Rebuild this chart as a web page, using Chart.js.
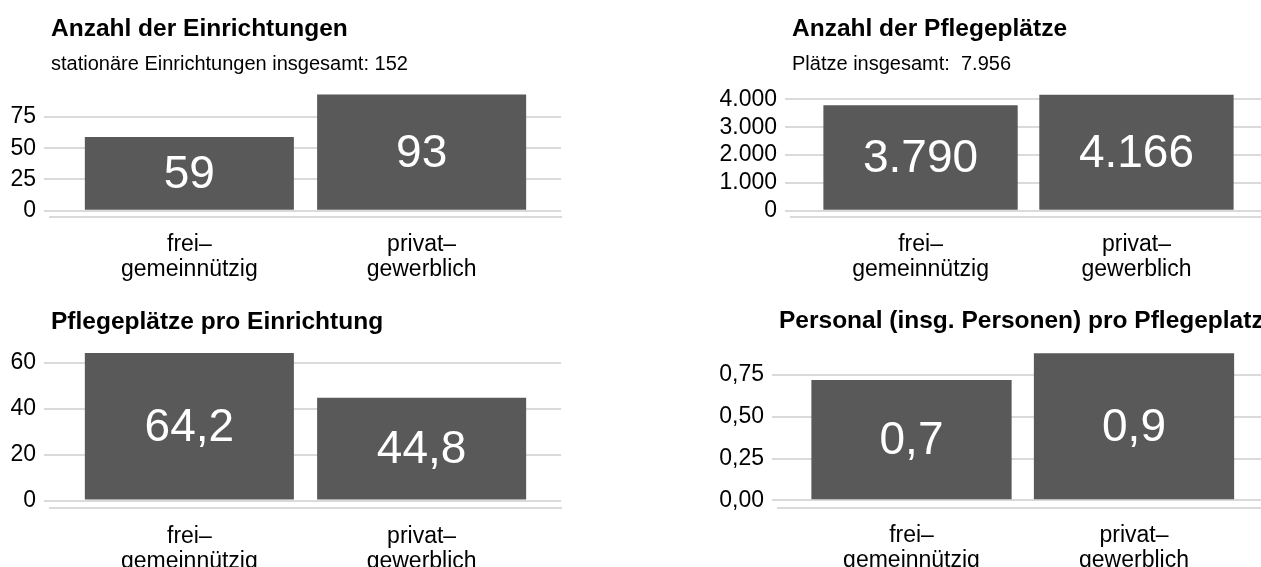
<!DOCTYPE html>
<html lang="de">
<head>
<meta charset="UTF-8">
<title>Pflegeeinrichtungen nach Träger</title>
<script src="https://cdn.jsdelivr.net/npm/chart.js"></script>
<style>
    html, body { margin: 0; padding: 0; background: #fff; overflow: hidden; }
    body {
        width: 1261px; height: 567px; position: relative;
        font-family: 'Liberation Sans', Arial, sans-serif; color: #000;
    }
    canvas { position: absolute; left: 0; top: 0; }
    .title { position: absolute; font-weight: bold; font-size: 24.5px; line-height: 24px; white-space: nowrap; z-index: 2; }
    .sub { position: absolute; font-size: 20px; line-height: 20px; white-space: nowrap; z-index: 2; }
</style>
</head>
<body>
<div class="title" style="left:51px; top:16px;">Anzahl der Einrichtungen</div>
<div class="sub" style="left:51px; top:53px;">stationäre Einrichtungen insgesamt: 152</div>
<div class="title" style="left:792px; top:16px;">Anzahl der Pflegeplätze</div>
<div class="sub" style="left:792px; top:53px;">Plätze insgesamt:&nbsp; 7.956</div>
<div class="title" style="left:51px; top:309px;">Pflegeplätze pro Einrichtung</div>
<div class="title" style="left:779px; top:308px;">Personal (insg. Personen) pro Pflegeplatz</div>

<canvas id="c1" width="1300" height="600"></canvas>
<canvas id="c2" width="1300" height="600"></canvas>
<canvas id="c3" width="1300" height="600"></canvas>
<canvas id="c4" width="1300" height="600"></canvas>

<script>
    // Daten
    const categories = [['frei–', 'gemeinnützig'], ['privat–', 'gewerblich']];

    const einrichtungen = [59, 93];
    const einrichtungenTicks = [0, 25, 50, 75];

    const plaetze = [3790, 4166];
    const plaetzeTicks = [0, 1000, 2000, 3000, 4000];

    const plaetzeProEinrichtung = [64.2, 44.8];
    const plaetzeProEinrichtungTicks = [0, 20, 40, 60];

    const personalProPlatz = [0.72, 0.88];
    const personalProPlatzTicks = [0, 0.25, 0.5, 0.75];

    const FONT = "'Liberation Sans', Arial, sans-serif";
    const BAR = '#595959';
    const GRID = '#dadada';
    const CW = 1300, CH = 600, XH = 70;

    function fmtDe(v, dec) {
        const parts = v.toFixed(dec).split('.');
        parts[0] = parts[0].replace(/\B(?=(\d{3})+(?!\d))/g, '.');
        return parts.join(',');
    }

    const valueLabels = {
        id: 'valueLabels',
        afterDatasetsDraw(chart, args, opts) {
            const ctx = chart.ctx;
            const meta = chart.getDatasetMeta(0);
            ctx.save();
            ctx.fillStyle = '#fff';
            ctx.font = '46px ' + FONT;
            ctx.textAlign = 'center';
            ctx.textBaseline = 'middle';
            meta.data.forEach((bar, i) => {
                const v = chart.data.datasets[0].data[i].y;
                ctx.fillText(fmtDe(v, opts.decimals), bar.x, (bar.y + bar.base) / 2 + 2);
            });
            ctx.restore();
        }
    };

    // box: left/right/top/bottom of the plot area, yw: width of y axis
    function makeChart(id, values, ticks, tickDec, labelDec, box) {
        const vmax = Math.max(...values);
        return new Chart(document.getElementById(id), {
            type: 'bar',
            data: {
                datasets: [{
                    data: values.map((v, i) => ({ x: i + 1, y: v })),
                    backgroundColor: BAR,
                    categoryPercentage: 1,
                    barPercentage: 0.9
                }]
            },
            options: {
                responsive: false,
                animation: false,
                devicePixelRatio: 1,
                layout: {
                    padding: {
                        left: box.left - box.yw,
                        right: CW - box.right,
                        top: box.top,
                        bottom: CH - box.bottom - XH
                    }
                },
                plugins: {
                    legend: { display: false },
                    tooltip: { enabled: false },
                    valueLabels: { decimals: labelDec }
                },
                scales: {
                    x: {
                        type: 'linear',
                        min: 0.4, max: 2.6,
                        offset: false,
                        grid: { display: false, offset: false },
                        border: { display: true, color: GRID, width: 2 },
                        afterBuildTicks: s => { s.ticks = [{ value: 1 }, { value: 2 }]; },
                        afterFit: s => { s.height = XH; },
                        ticks: {
                            autoSkip: false, maxRotation: 0,
                            padding: 8,
                            color: '#000',
                            font: { family: FONT, size: 23, lineHeight: 1.08 },
                            callback: v => categories[v - 1]
                        }
                    },
                    y: {
                        min: -0.05 * vmax, max: 1.05 * vmax,
                        grid: { color: GRID, lineWidth: 2, tickLength: 6 },
                        border: { display: false },
                        afterBuildTicks: s => { s.ticks = ticks.map(t => ({ value: t })); },
                        afterFit: s => { s.width = box.yw; },
                        ticks: {
                            padding: 8,
                            color: '#000',
                            font: { family: FONT, size: 23 },
                            callback: v => fmtDe(v, tickDec)
                        }
                    }
                }
            },
            plugins: [valueLabels]
        });
    }

    makeChart('c1', einrichtungen, einrichtungenTicks, 0, 0,
        { left: 50, right: 561, top: 88.7, bottom: 216.5, yw: 50 });
    makeChart('c2', plaetze, plaetzeTicks, 0, 0,
        { left: 791, right: 1266, top: 88.9, bottom: 216.5, yw: 75 });
    makeChart('c3', plaetzeProEinrichtung, plaetzeProEinrichtungTicks, 0, 1,
        { left: 50, right: 561, top: 345.7, bottom: 508, yw: 50 });
    makeChart('c4', personalProPlatz, personalProPlatzTicks, 2, 1,
        { left: 778, right: 1267.5, top: 346, bottom: 507.6, yw: 75 });
</script>
</body>
</html>
